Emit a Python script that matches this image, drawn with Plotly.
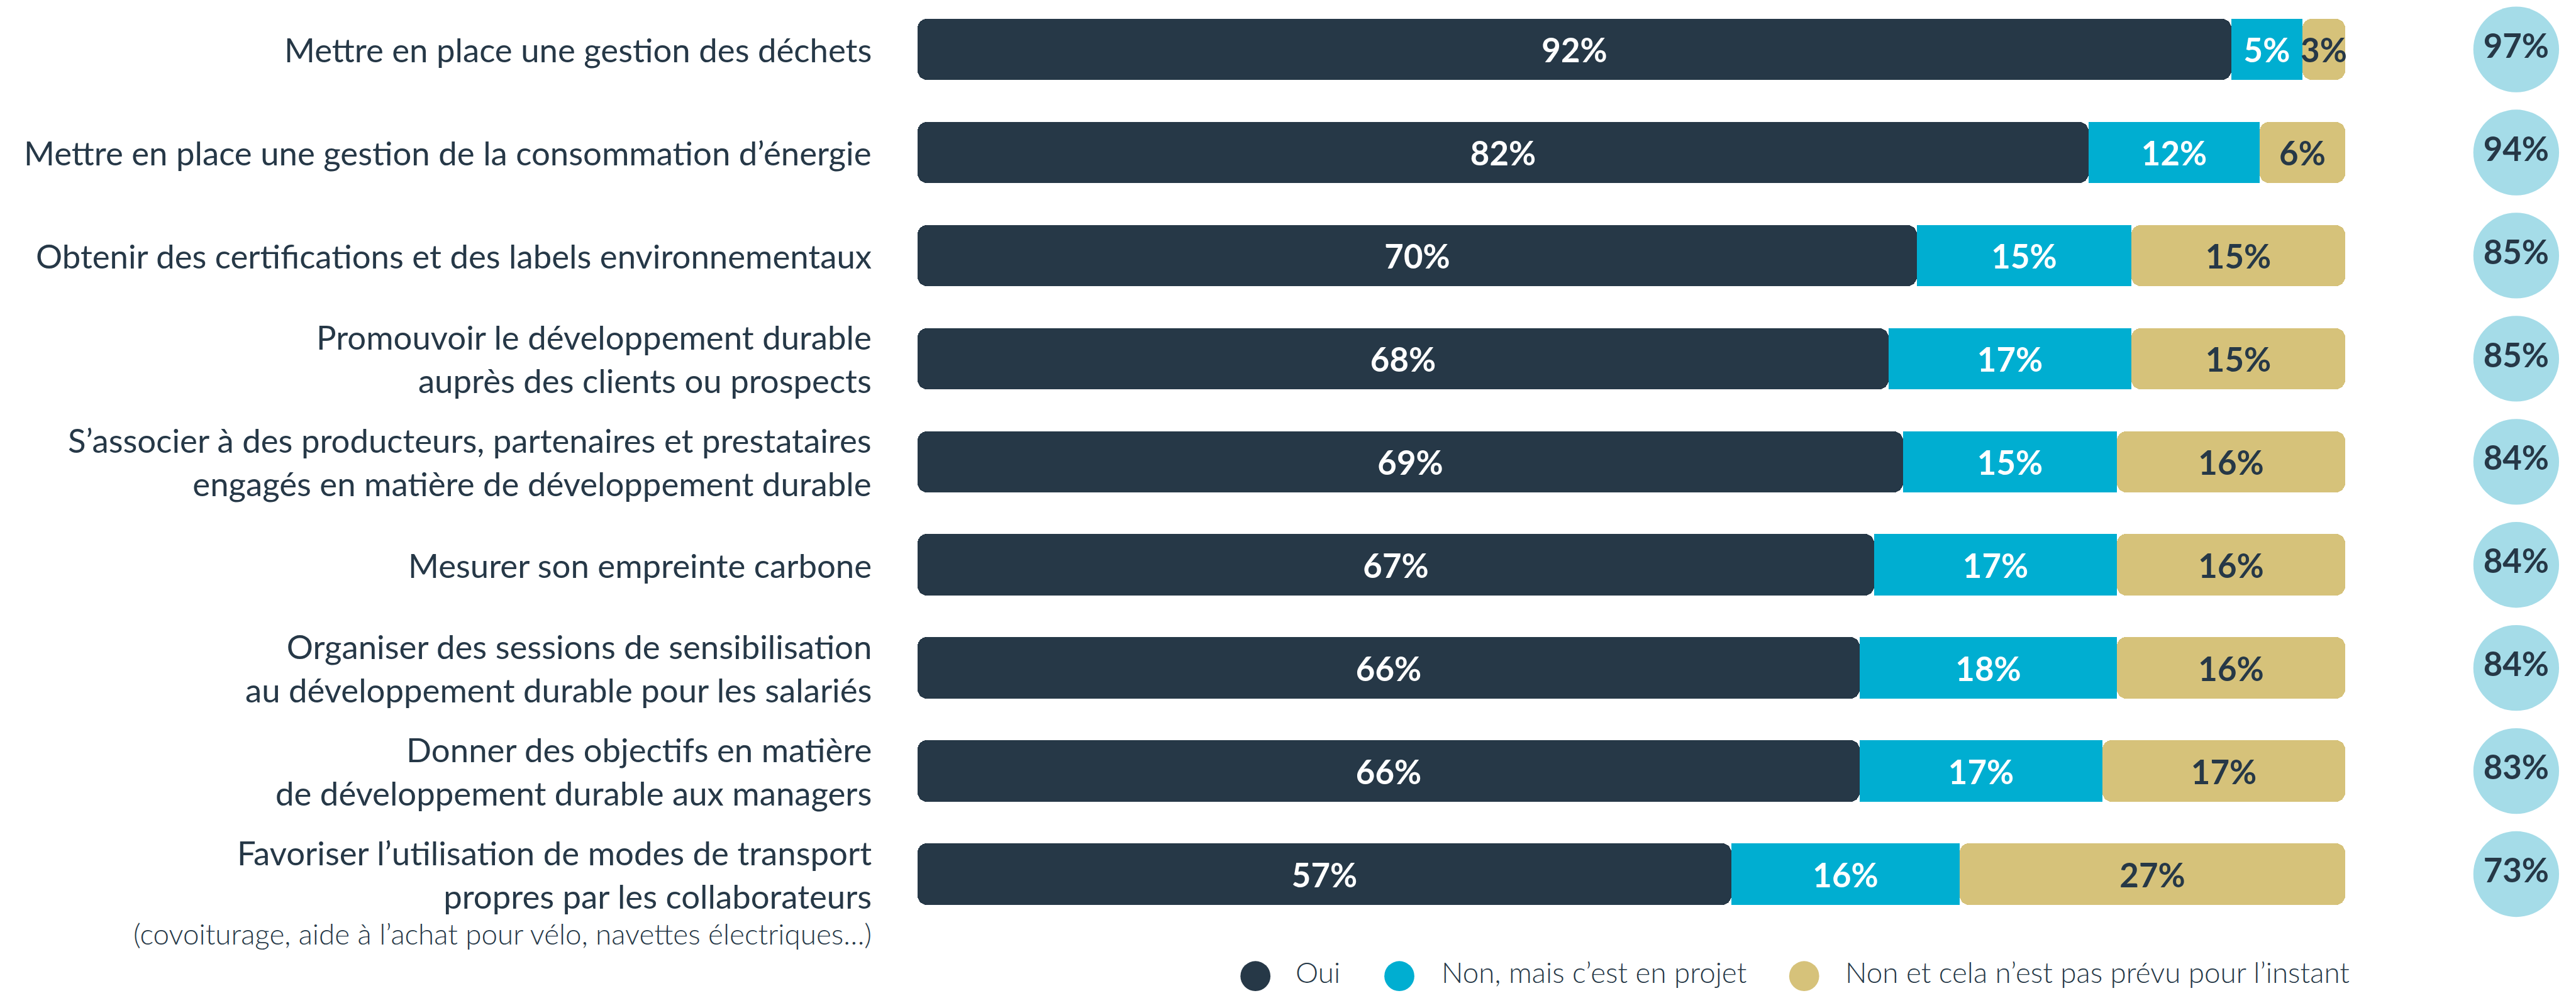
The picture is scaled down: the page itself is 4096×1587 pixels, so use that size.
import plotly.graph_objects as go

# ---------------- data ----------------
categories = [
    "Mettre en place une gestion des déchets",
    "Mettre en place une gestion de la consommation d’énergie",
    "Obtenir des certifications et des labels environnementaux",
    "Promouvoir le développement durable<br>auprès des clients ou prospects",
    "S’associer à des producteurs, partenaires et prestataires<br>engagés en matière de développement durable",
    "Mesurer son empreinte carbone",
    "Organiser des sessions de sensibilisation<br>au développement durable pour les salariés",
    "Donner des objectifs en matière<br>de développement durable aux managers",
    "Favoriser l’utilisation de modes de transport<br>propres par les collaborateurs",
]
category_note = "(covoiturage, aide à l’achat pour vélo, navettes électriques…)"
oui = [92, 82, 70, 68, 69, 67, 66, 66, 57]
en_projet = [5, 12, 15, 17, 15, 17, 18, 17, 16]
pas_prevu = [3, 6, 15, 15, 16, 16, 16, 17, 27]
totals = [97, 94, 85, 85, 84, 84, 84, 83, 73]
series_names = ["Oui", "Non, mais c’est en projet", "Non et cela n’est pas prévu pour l’instant"]

# ---------------- styles ----------------
DARK = "#263847"
CYAN = "#00AED1"
GOLD = "#D6C27A"
LIGHT = "#A5DCE8"
S = 0.995
W_FIG, H_FIG = 4096, 1587
L = 1466 * S            # left edge of bars (pixels)
U = 22.82 * S           # pixels per percent
P = 164.75 * S          # row pitch
Y0 = 79 * S             # centre of first row
PW = W_FIG - L

def px2paper(px_full):
    return (px_full * S - L) / PW

def py2y(py_full):
    return (py_full * S - Y0) / P

FONT = "Lato"
label_size = 53 * S
num_size = 53 * S
legend_size = 46 * S

rows = list(range(len(categories)))
bar_w = 98 * S / P

fig = go.Figure()
# Oui bar drawn from its end back to zero so that its left end is rounded
fig.add_trace(go.Bar(
    y=rows, x=[-v for v in oui], base=oui, orientation="h", width=bar_w,
    marker=dict(color=DARK, cornerradius=int(16 * S), line=dict(width=0)),
    text=[f"{v}%" for v in oui], textposition="inside", insidetextanchor="middle",
    textangle=0, textfont=dict(color="white", size=num_size, family=FONT, weight="bold"),
    name=series_names[0], showlegend=False, hoverinfo="skip",
))
fig.add_trace(go.Bar(
    y=rows, x=en_projet, base=oui, orientation="h", width=bar_w,
    marker=dict(color=CYAN, line=dict(width=0)),
    text=[f"{v}%" for v in en_projet], textposition="inside", insidetextanchor="middle",
    textangle=0, textfont=dict(color="white", size=num_size, family=FONT, weight="bold"),
    name=series_names[1], showlegend=False, hoverinfo="skip",
))
fig.add_trace(go.Bar(
    y=rows, x=pas_prevu, base=[a + b for a, b in zip(oui, en_projet)], orientation="h", width=bar_w,
    marker=dict(color=GOLD, cornerradius=int(16 * S), line=dict(width=0)),
    text=[f"{v}%" for v in pas_prevu], textposition="inside", insidetextanchor="middle",
    textangle=0, textfont=dict(color=DARK, size=num_size, family=FONT, weight="bold"),
    name=series_names[2], showlegend=False, hoverinfo="skip",
))
# total circles
circle_x = (4021 * S - L) / U
fig.add_trace(go.Scatter(
    x=[circle_x] * len(rows), y=rows, mode="markers+text",
    marker=dict(size=137 * S, color=LIGHT, line=dict(width=0)),
    text=[f"{v}%" for v in totals], textposition="middle center",
    textfont=dict(color=DARK, size=num_size, family=FONT, weight="bold"),
    showlegend=False, hoverinfo="skip", cliponaxis=False,
))
# custom legend
leg_marker_y = py2y(1560)
leg_text_y = py2y(1553)
leg_marker_px = [2006, 2236, 2883]
leg_text_px = [2069, 2302, 2948]
fig.add_trace(go.Scatter(
    x=[(p * S - L) / U for p in leg_marker_px], y=[leg_marker_y] * 3, mode="markers",
    marker=dict(size=48 * S, color=[DARK, CYAN, GOLD], line=dict(width=0)),
    showlegend=False, hoverinfo="skip", cliponaxis=False,
))

annotations = []
for i, cat in enumerate(categories):
    annotations.append(dict(
        x=px2paper(1395), xref="paper", y=i, yref="y", text=cat, showarrow=False,
        xanchor="right", yanchor="middle", align="right",
        font=dict(family=FONT, size=label_size, color=DARK),
    ))
annotations.append(dict(
    x=px2paper(1395), xref="paper", y=py2y(1492), yref="y", text=category_note, showarrow=False,
    xanchor="right", yanchor="middle", align="right",
    font=dict(family=FONT, size=legend_size, color=DARK, weight=300),
))
for name, px in zip(series_names, leg_text_px):
    annotations.append(dict(
        x=px2paper(px), xref="paper", y=leg_text_y, yref="y", text=name, showarrow=False,
        xanchor="left", yanchor="middle", align="left", borderpad=0,
        font=dict(family=FONT, size=legend_size, color=DARK, weight=300),
    ))

fig.update_layout(
    width=W_FIG, height=H_FIG,
    margin=dict(l=L, r=0, t=0, b=0, pad=0),
    paper_bgcolor="white", plot_bgcolor="white",
    barmode="overlay", bargap=0,
    uniformtext=dict(minsize=num_size, mode="show"),
    xaxis=dict(range=[0, PW / U], visible=False, fixedrange=True),
    yaxis=dict(range=[(H_FIG - Y0) / P, -Y0 / P], visible=False, fixedrange=True),
    annotations=annotations,
    showlegend=False,
)
fig.write_html("out.html")
